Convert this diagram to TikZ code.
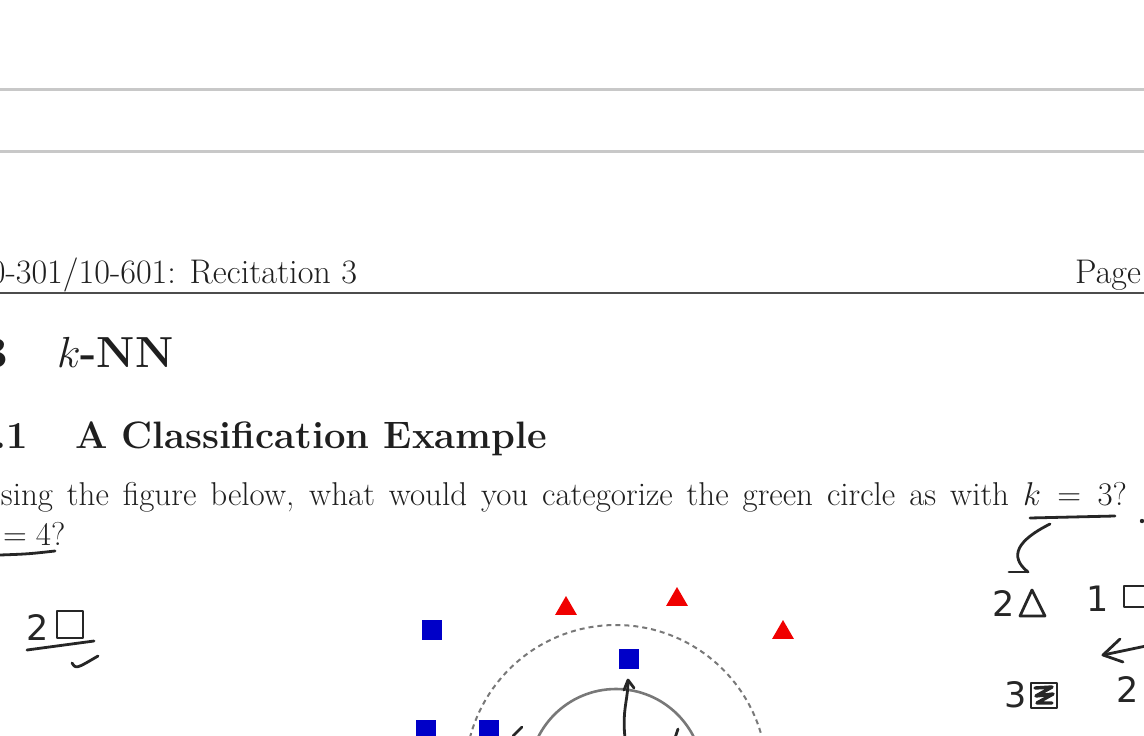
\RequirePackage{fix-cm}
\documentclass[tikz,border=0pt]{standalone}
\usepackage{fontspec}
\newfontfamily\handfont{DejaVu Sans}
\usetikzlibrary{shapes.geometric}
\definecolor{ink}{HTML}{262626}
\definecolor{ptblue}{HTML}{0000C8}
\definecolor{ptred}{HTML}{F00000}
\definecolor{rulegray}{HTML}{C8C8C8}
\definecolor{ringgray}{HTML}{787878}

\begin{document}
\begin{tikzpicture}[
    x=1pt, y=-1pt,
    every node/.style={inner sep=0pt, outer sep=0pt, text=black!88},
    hand/.style={draw=ink, line width=2.8pt, line cap=round, line join=round},
    bsq/.style={fill=ptblue, minimum size=20pt},
    rtri/.style={regular polygon, regular polygon sides=3, fill=ptred, minimum size=25pt},
    hdr/.style={font=\fontsize{34.2}{40}\selectfont},
    sec/.style={font=\fontsize{43.5}{52}\selectfont\bfseries},
    subsec/.style={font=\fontsize{38.2}{46}\selectfont\bfseries},
    body/.style={font=\fontsize{33}{40}\selectfont},
    digit/.style={font=\fontsize{35}{40}\handfont, text=ink},
]
\useasboundingbox (0,0) rectangle (1144,736);
\clip (0,0) rectangle (1144,736);

% page edge lines
\draw[rulegray, line width=3pt] (0,89) -- (1144,89);
\draw[rulegray, line width=3pt] (0,151) -- (1144,151);

% running head
\node[hdr, anchor=base east] (head) at (357,283) {0-301/10-601: Recitation 3};
\node[hdr, anchor=base east] (page) at (1141,283) {Page};
\draw[black!70, line width=1.6pt] (0,293) -- (1144,293);

% section titles
\node[sec, anchor=base east] (secnum) at (8,367) {3};
\node[sec, anchor=base west] (sectitle) at (57,367) {$k$-NN};
\node[subsec, anchor=base east] (subnum) at (28,448) {.1};
\node[subsec, anchor=base west] (subtitle) at (75,448) {A Classification Example};

% question
\node[body, anchor=base west] (line1) at (1,505)
    {\makebox[1126pt][s]{sing the figure below, what would you categorize the green circle as with $k = 3$?}};
\node[body, anchor=base west] (line2) at (3,545) {$= 4$?};

% scatter plot
\node[bsq] (b1) at (432,630) {};
\node[bsq] (b2) at (629,659) {};
\node[bsq] (b3) at (426,730) {};
\node[bsq] (b4) at (489,730) {};
\node[rtri] (r1) at (566,608.5) {};
\node[rtri] (r2) at (677,599.5) {};
\node[rtri] (r3) at (783,632.5) {};
\coordinate (query) at (616,776);
\draw[ringgray, line width=2pt, dash pattern=on 5pt off 4pt] (query) circle[radius=151];
\draw[ringgray, line width=2.6pt] (query) circle[radius=87];

% handwritten notes
\draw[hand] (0,555) .. controls (28,554) .. (55,551);
\draw[hand] (1030,518) -- (1115,516);
\fill[ink] (1142,521) circle[radius=2.2];
\draw[hand] (1050,524) .. controls (1018,540) and (1008,556) .. (1028,572);
\draw[hand] (1009,572) -- (1028,572);

\node[digit, anchor=base west] (l2) at (27,640) {2};
\draw[hand] (57,611) rectangle (83,638);
\draw[hand] (27,650) -- (94,641);
\draw[hand] (72,663) .. controls (76,669) .. (98,656);

\node[digit, anchor=base west] (t2) at (992,616) {2};
\draw[hand] (1020,616) -- (1032,590) -- (1045,616) -- cycle;
\node[digit, anchor=base west] (s1) at (1086,611) {1};
\draw[hand] (1146,586) -- (1124,586) -- (1124,607) -- (1146,607);
\draw[hand] (1146,646) -- (1103,655);
\draw[hand] (1120,639) -- (1103,655) -- (1123,662);
\node[digit, anchor=base west] (n2) at (1116,702) {2};
\node[digit, anchor=base west] (n3) at (1004,707) {3};
\draw[hand] (1031,683) rectangle (1057,708);
\draw[hand, line width=3.4pt] (1035,688) -- (1052,687) -- (1036,696) -- (1053,694) -- (1037,703) -- (1052,703);

\draw[hand] (625,738) .. controls (622,710) and (628,700) .. (628,681);
\draw[hand] (624,690) -- (628,680) -- (634,688);
\draw[hand] (513,736) -- (522,727);
\draw[hand] (678,729) -- (675,738);
\end{tikzpicture}
\end{document}
